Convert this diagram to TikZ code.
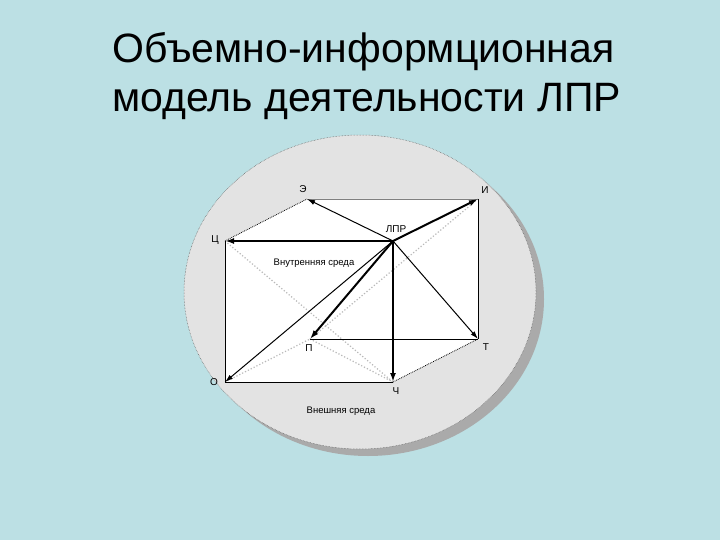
\documentclass[tikz,border=0pt]{standalone}
\usepackage{fontspec}
\setmainfont{Liberation Sans}
\usetikzlibrary{arrows.meta, positioning}

\definecolor{slidebg}{RGB}{188,224,228}
\definecolor{discgray}{RGB}{227,227,227}
\definecolor{shadowgray}{RGB}{170,170,170}

\begin{document}
\begin{tikzpicture}[x=1pt, y=-1pt,
  point/.style={font=\fontsize{10}{12}\selectfont, inner sep=1pt},
  zone/.style={font=\fontsize{9.5}{11}\selectfont, inner sep=1pt},
  edge/.style={line width=0.8pt},
  rim/.style={densely dotted, line width=0.8pt},
  hidden/.style={dotted, line width=1.2pt, gray!55},
  thinarr/.style={-{Latex[length=8pt, width=5pt]}, line width=1pt},
  thickarr/.style={-{Latex[length=9pt, width=6pt]}, line width=2pt}
]
  % Slide background
  \useasboundingbox (0,0) rectangle (720,540);
  \fill[slidebg] (0,0) rectangle (720,540);

  % Title
  \node[anchor=base west, align=left, inner sep=0pt,
    font=\fontsize{41}{49}\selectfont] (title) at (112,112)
    {Объемно-информционная\\модель деятельности ЛПР};

  % Disc with shadow
  \fill[shadowgray] (368,299) ellipse [x radius=176pt, y radius=157pt];
  \fill[discgray] (360,292) ellipse [x radius=176pt, y radius=157pt];
  \draw[densely dotted, gray!70!black, line width=0.5pt]
    (360,292) ellipse [x radius=176pt, y radius=157pt];

  % Vertices of the box
  \coordinate (Eh) at (307,199);
  \coordinate (I)  at (478,199);
  \coordinate (DM) at (393,241);
  \coordinate (C)  at (225,241);
  \coordinate (P)  at (310,339);
  \coordinate (T)  at (478,339);
  \coordinate (O)  at (225,382);
  \coordinate (Ch) at (393,382);

  % Inner medium
  \fill[white] (C) -- (Eh) -- (I) -- (T) -- (Ch) -- (O) -- cycle;

  % Hidden lines
  \foreach \a/\b in {C/Ch, O/P, P/Ch, P/I} {
    \draw[hidden] (\a) -- (\b);
  }

  % Edges
  \draw[edge, gray] (Eh) -- (I);
  \foreach \a/\b in {I/T, P/T, O/Ch, O/C} {
    \draw[edge] (\a) -- (\b);
  }
  \draw[rim] (C) -- (Eh);
  \draw[rim] (Ch) -- (T);

  % Arrows from the decision maker
  \foreach \t in {Eh, O, T} {
    \draw[thinarr] (DM) -- (\t);
  }
  \foreach \t in {I, C, P, Ch} {
    \draw[thickarr] (DM) -- (\t);
  }

  % Labels
  \node[point] (lEh) at (303,189) {Э};
  \node[point] (lI)  at (485,190) {И};
  \node[point] (lDM) at (396,229) {ЛПР};
  \node[point] (lC)  at (215,240) {Ц};
  \node[point] (lP)  at (309,348) {П};
  \node[point] (lT)  at (486,347) {Т};
  \node[point] (lO)  at (214,382) {О};
  \node[point] (lCh) at (396,391) {Ч};

  \node[zone] (inner) at (314,263) {Внутренняя среда};
  \node[zone] (outer) at (341,411) {Внешняя среда};
\end{tikzpicture}
\end{document}
